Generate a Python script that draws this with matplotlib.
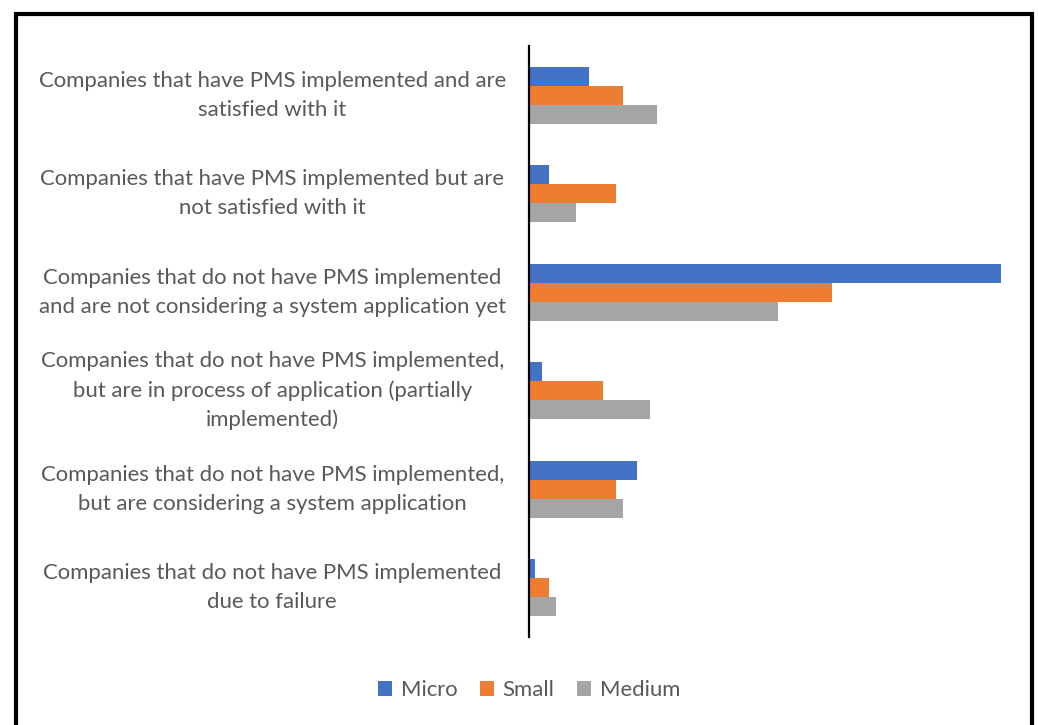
import matplotlib
matplotlib.use("Agg")
import matplotlib.pyplot as plt
from matplotlib.patches import Rectangle, Patch
import numpy as np

categories = [
    "Companies that have PMS implemented and are\nsatisfied with it",
    "Companies that have PMS implemented but are\nnot satisfied with it",
    "Companies that do not have PMS implemented\nand are not considering a system application yet",
    "Companies that do not have PMS implemented,\nbut are in process of application (partially\nimplemented)",
    "Companies that do not have PMS implemented,\nbut are considering a system application",
    "Companies that do not have PMS implemented\ndue to failure",
]
micro = [9, 3, 70, 2, 16, 1]
small = [14, 13, 45, 11, 13, 3]
medium = [19, 7, 37, 18, 14, 4]

series_names = ["Micro", "Small", "Medium"]
colors = ["#4472C4", "#ED7D31", "#A5A5A5"]
text_color = "#595959"

plt.rcParams["font.family"] = ["Lato", "DejaVu Sans"]

W, H = 1038, 725
fig = plt.figure(figsize=(W / 100, H / 100), dpi=100)
ax = fig.add_axes([528.5 / W, 88 / H, 472.5 / W, 591 / H])

y = np.arange(len(categories))
h = 0.193
for i, (vals, name, c) in enumerate(zip([micro, small, medium], series_names, colors)):
    ax.barh(y + (i - 1) * h, vals, height=h, color=c, label=name)

ax.set_ylim(len(categories) - 0.5, -0.5)
ax.set_xlim(0, 70)
ax.set_xticks([])
ax.set_yticks(y)
ax.set_yticklabels(categories, ha="center", va="center", multialignment="center",
                   color=text_color, fontsize=15.9, linespacing=1.55)
ax.tick_params(axis="y", length=0, pad=184.5)
for s in ["top", "right", "bottom"]:
    ax.spines[s].set_visible(False)
ax.spines["left"].set_linewidth(1.6)
ax.spines["left"].set_color("black")

handles = [Patch(facecolor=c, edgecolor="none") for c in colors]
fig.legend(handles, series_names, loc="center", bbox_to_anchor=(529 / W, 1 - 690 / H),
           ncol=3, frameon=False, fontsize=15.9, labelcolor=text_color,
           handlelength=0.65, handleheight=0.65, handletextpad=0.4, columnspacing=1.0)

# outer frame
fig.patches.append(Rectangle((16 / W, -0.05), (1032 - 16) / W, (H - 14) / H + 0.05,
                             transform=fig.transFigure, fill=False,
                             edgecolor="black", linewidth=3, zorder=10))

fig.savefig("out.png", dpi=100)
